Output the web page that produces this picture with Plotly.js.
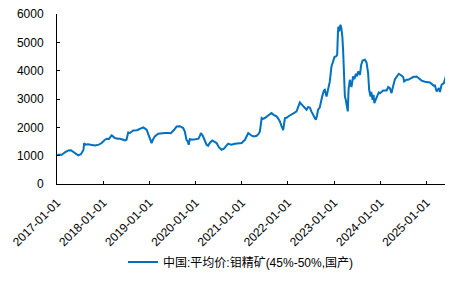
<!DOCTYPE html>
<html>
<head>
<meta charset="utf-8">
<script src="https://cdn.plot.ly/plotly-3.0.1.min.js"></script>
<style>
html,body{margin:0;padding:0;background:#fff;}
#chart{width:469px;height:281px;}
</style>
</head>
<body>
<div id="chart"></div>
<script>
const seriesName = "中国:平均价:钼精矿(45%-50%,国产)";
const dates = [
"2017-01-03","2017-02-08","2017-03-05","2017-03-31","2017-04-21","2017-05-10","2017-05-30","2017-06-18","2017-07-09","2017-07-19",
"2017-07-29","2017-08-04","2017-08-12","2017-09-02","2017-10-04","2017-10-28","2017-11-28","2017-12-20","2018-01-15","2018-01-31",
"2018-02-16","2018-03-09","2018-03-20","2018-04-03","2018-04-28","2018-05-14","2018-06-08","2018-06-23","2018-07-05","2018-07-18",
"2018-08-01","2018-08-27","2018-09-25","2018-10-19","2018-11-14","2018-12-11","2018-12-25","2019-01-06","2019-01-19","2019-01-29",
"2019-02-14","2019-03-12","2019-04-10","2019-05-04","2019-05-30","2019-06-20","2019-07-17","2019-08-05","2019-08-31","2019-09-26",
"2019-10-09","2019-10-22","2019-11-01","2019-11-09","2019-11-17","2019-12-02","2020-01-01","2020-01-25","2020-02-05","2020-02-13",
"2020-02-28","2020-03-29","2020-04-10","2020-04-23","2020-05-13","2020-05-26","2020-06-16","2020-07-04","2020-07-26","2020-08-13",
"2020-08-29","2020-09-16","2020-09-29","2020-10-13","2020-11-08","2020-12-01","2021-01-01","2021-01-13","2021-01-27","2021-02-22",
"2021-03-21","2021-04-08","2021-04-29","2021-05-13","2021-05-25","2021-06-08","2021-06-18","2021-07-03","2021-07-26","2021-08-11",
"2021-08-24","2021-09-10","2021-10-04","2021-10-18","2021-10-30","2021-11-11","2021-11-25","2021-12-09","2021-12-22","2022-01-09",
"2022-01-31","2022-02-18","2022-03-11","2022-03-25","2022-04-06","2022-04-18","2022-05-02","2022-05-15","2022-05-29","2022-06-10",
"2022-06-24","2022-07-06","2022-07-20","2022-08-02","2022-08-10","2022-08-19","2022-08-28","2022-09-10","2022-09-19","2022-09-30",
"2022-10-13","2022-10-20","2022-11-03","2022-11-15","2022-11-29","2022-12-12","2022-12-25","2023-01-05","2023-01-16","2023-01-26",
"2023-02-01","2023-02-05","2023-02-11","2023-02-21","2023-02-28","2023-03-08","2023-03-14","2023-03-22","2023-03-28","2023-04-04",
"2023-04-15","2023-04-20","2023-04-26","2023-05-06","2023-05-19","2023-06-01","2023-06-11","2023-06-23","2023-07-02","2023-07-11",
"2023-07-25","2023-08-04","2023-08-15","2023-09-02","2023-09-15","2023-09-28","2023-10-06","2023-10-17","2023-10-23","2023-11-02",
"2023-11-10","2023-11-16","2023-12-02","2023-12-21","2023-12-30","2024-01-25","2024-02-21","2024-03-05","2024-03-18","2024-03-31",
"2024-04-12","2024-04-27","2024-05-09","2024-05-28","2024-06-19","2024-07-01","2024-07-09","2024-07-27","2024-08-10","2024-09-06",
"2024-09-18","2024-10-16","2024-11-02","2024-11-24","2024-12-20","2025-01-29","2025-03-01","2025-03-09","2025-03-23","2025-04-02",
"2025-04-10","2025-04-18","2025-05-01","2025-05-19","2025-06-04"
];
const prices = [
1035,1030,1120,1185,1190,1128,1060,1010,1050,1115,
1200,1446,1390,1400,1370,1362,1390,1446,1563,1600,
1590,1715,1680,1622,1600,1598,1560,1538,1560,1820,
1800,1890,1900,1938,2000,1915,1750,1563,1446,1560,
1680,1774,1800,1800,1799,1790,1915,2032,2040,1975,
1850,1563,1500,1386,1587,1563,1580,1600,1700,1799,
1700,1386,1351,1450,1538,1500,1446,1300,1210,1250,
1350,1422,1400,1386,1420,1440,1446,1503,1560,1799,
1704,1680,1704,1760,1855,2328,2300,2328,2400,2444,
2504,2440,2386,2300,2210,2050,1900,2328,2340,2400,
2444,2500,2561,2700,2878,2820,2762,2680,2621,2716,
2700,2561,2444,2350,2268,2400,2620,2700,2914,3100,
3300,3326,3090,3386,3619,4148,4385,4480,4500,4560,
5326,5560,5385,5619,5500,5200,4738,3795,3090,2974,
2737,2561,3326,3679,3421,3795,3700,3890,3800,3972,
3855,4200,4360,4385,4290,3914,3326,3090,3250,2974,
3150,2855,3032,3231,3200,3301,3301,3421,3380,3209,
3443,3700,3774,3890,3820,3774,3619,3680,3679,3738,
3774,3795,3720,3650,3608,3585,3467,3478,3266,3350,
3386,3245,3503,3562,3800
];
const yTicks = [0,1000,2000,3000,4000,5000,6000];
const xTickVals = ["2017-01-01","2018-01-01","2019-01-01","2020-01-01","2021-01-01","2022-01-01","2023-01-01","2024-01-01","2025-01-01"];

const font = 'Liberation Sans, Arial, "Noto Sans CJK SC", sans-serif';
const trace = {
  x: dates, y: prices, type: 'scatter', mode: 'lines', name: seriesName,
  line: {color: '#0070C0', width: 2}
};
const layout = {
  width: 469, height: 281,
  margin: {l: 57, r: 24, t: 14, b: 96.5},
  paper_bgcolor: '#fff', plot_bgcolor: '#fff',
  font: {family: font, size: 12, color: '#000'},
  showlegend: true,
  legend: {orientation: 'h', x: 0.17, xanchor: 'left', yref: 'container', y: 0.0676, yanchor: 'middle',
           font: {family: font, size: 12, color: '#000'}, bgcolor: 'rgba(0,0,0,0)'},
  xaxis: {
    type: 'date', range: ['2017-01-01', '2025-05-28'], automargin: false,
    tickvals: xTickVals, ticktext: xTickVals, tickangle: -45,
    ticks: 'inside', ticklen: 3, tickcolor: '#000', tickwidth: 1,
    showline: true, linecolor: '#000', linewidth: 1, showgrid: false, zeroline: false,
    ticklabelstandoff: 6,
    tickfont: {family: font, size: 12, color: '#000'}
  },
  yaxis: {
    range: [0, 6000], tickvals: yTicks, automargin: false,
    ticks: 'inside', ticklen: 3, tickcolor: '#000', tickwidth: 1,
    showline: true, linecolor: '#000', linewidth: 1, showgrid: false, zeroline: false,
    ticklabelstandoff: 10,
    tickfont: {family: font, size: 12, color: '#000'}
  }
};
Plotly.newPlot('chart', [trace], layout, {displayModeBar: false, staticPlot: true});
</script>
</body>
</html>
